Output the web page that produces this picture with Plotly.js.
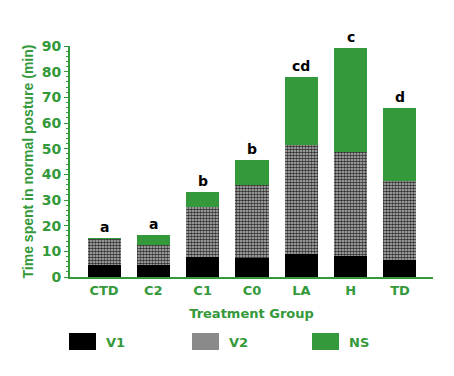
<!DOCTYPE html>
<html>
<head>
<meta charset="utf-8">
<script src="https://cdn.plot.ly/plotly-3.0.1.min.js"></script>
<style>html,body{margin:0;padding:0;background:#fff;}#chart{width:454px;height:376px;}</style>
</head>
<body>
<div id="chart"></div>
<script>
var categories = ["CTD", "C2", "C1", "C0", "LA", "H", "TD"];
var v1 = [4.6, 4.8, 7.8, 7.5, 8.9, 8.2, 6.6];
var v2 = [10.2, 7.7, 19.6, 28.3, 42.5, 40.6, 30.9];
var ns = [0.5, 3.9, 5.7, 9.8, 26.7, 40.3, 28.5];
var letters = ["a", "a", "b", "b", "cd", "c", "d"];
var seriesNames = ["V1", "V2", "NS"];

var green = "#33993a";
var font = "DejaVu Sans, Verdana, sans-serif";
var titleFont = "Liberation Sans, Arial, sans-serif";

var traces = [
  {type: "bar", x: categories, y: v1, name: seriesNames[0], marker: {color: "#000000", line: {width: 0}}},
  {type: "bar", x: categories, y: v2, name: seriesNames[1],
   marker: {color: "#8f8f8f", line: {width: 0},
            pattern: {shape: ".", fgcolor: "#303030", bgcolor: "#c4c4c4", size: 3, solidity: 0.6}}},
  {type: "bar", x: categories, y: ns, name: seriesNames[2], marker: {color: green, line: {width: 0}}}
];

var annotations = categories.map(function (c, i) {
  return {x: c, y: v1[i] + v2[i] + ns[i], text: "<b>" + letters[i] + "</b>", showarrow: false,
          yanchor: "bottom", yshift: 1, font: {family: font, size: 14, color: "#000"}};
});

var shapes = [];
var legendCols = ["#000000", "#8a8a8a", green];
var boxX = [69, 192, 312];
var W = 363, H = 231, L = 70, B = 277;
function px(x) { return (x - L) / W; }
function py(y) { return (B - y) / H; }
for (var i = 0; i < 3; i++) {
  shapes.push({type: "rect", xref: "paper", yref: "paper", x0: px(boxX[i]), x1: px(boxX[i] + 27),
               y0: py(350), y1: py(333), fillcolor: legendCols[i], line: {width: 0}});
  annotations.push({xref: "paper", yref: "paper", x: px(boxX[i] + 35), y: py(342), xanchor: "left", yanchor: "middle",
                    text: "<b>" + seriesNames[i] + "</b>", showarrow: false, font: {family: font, size: 13, color: green}});
}

var layout = {
  width: 454, height: 376,
  margin: {l: 70, r: 21, t: 46, b: 99},
  barmode: "stack", bargap: 0.33,
  showlegend: false,
  paper_bgcolor: "#fff", plot_bgcolor: "#fff",
  font: {family: font, color: green},
  xaxis: {
    range: [-0.69, 6.67], showline: true, linecolor: green, linewidth: 2,
    ticks: "", tickfont: {family: font, size: 13, color: green, weight: "bold"},
    title: {text: "<b>Treatment Group</b>", font: {family: font, size: 13, color: green}, standoff: 12},
    showgrid: false, zeroline: false
  },
  yaxis: {
    range: [0, 90], dtick: 10, showline: true, linecolor: green, linewidth: 2,
    ticks: "outside", ticklen: 4, tickcolor: green, tickwidth: 1,
    minor: {dtick: 2, ticks: "outside", ticklen: 2, tickcolor: green},
    tickfont: {family: font, size: 14, color: green, weight: "bold"},
    title: {text: "<b>Time spent in normal posture (min)</b>", font: {family: titleFont, size: 14, color: green}, standoff: 5},
    showgrid: false, zeroline: false
  },
  annotations: annotations,
  shapes: shapes
};

Plotly.newPlot("chart", traces, layout, {displayModeBar: false, staticPlot: true});
</script>
</body>
</html>
